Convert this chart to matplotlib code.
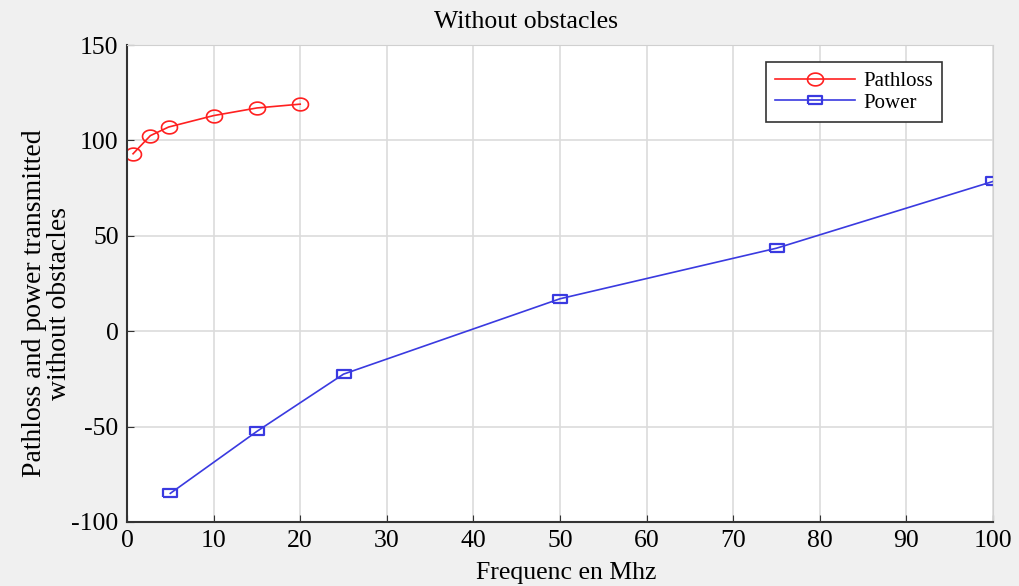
import numpy as np
import matplotlib
matplotlib.use("Agg")
import matplotlib.pyplot as plt

plt.rcParams['font.family'] = ['Liberation Serif', 'DejaVu Serif']
plt.rcParams['axes.unicode_minus'] = False

# data
freq_pl = [0.7, 2.7, 4.8, 10, 15, 20]
pathloss = [93, 102.5, 107, 113, 117, 119]
freq_pw = [5, 15, 25, 50, 75, 100]
power = [-85, -52.5, -22.5, 17, 43.5, 78.5]
xticks = np.arange(0, 101, 10)
yticks = np.arange(-100, 151, 50)

# slightly flattened markers, as in the reference
t = np.linspace(0, 2 * np.pi, 41)
ellipse = np.column_stack([np.cos(t), 0.8 * np.sin(t)])
rect = [(-1, -0.6), (1, -0.6), (1, 0.6), (-1, 0.6), (-1, -0.6)]

fig = plt.figure(figsize=(10.19, 5.86), dpi=100, facecolor='#f0f0f0')
ax = fig.add_axes([127 / 1019, 1 - 522 / 586, 866 / 1019, 477 / 586])
ax.set_facecolor('white')

ax.plot(freq_pl, pathloss, color='#ff2020', marker=ellipse, ms=11.5, mfc='none',
        mew=1.2, lw=1.2, label='Pathloss')
ax.plot(freq_pw, power, color='#3a3ae0', marker=rect, ms=10, mfc='none',
        mew=1.6, lw=1.2, label='Power')

ax.set_xlim(0, 100)
ax.set_ylim(-100, 150)
ax.set_xticks(xticks)
ax.set_yticks(yticks)
ax.grid(True, color='#dcdcdc', lw=1.2)
ax.tick_params(direction='in', labelsize=18.5, length=5, color='#333333', pad=6)
for s in ['left', 'bottom']:
    ax.spines[s].set_color('#333333')
    ax.spines[s].set_linewidth(1.5)
for s in ['top', 'right']:
    ax.spines[s].set_color('#d0d0d0')

leg = ax.legend(loc='upper left', bbox_to_anchor=(766 / 1019, 1 - 62 / 586),
                bbox_transform=fig.transFigure, borderaxespad=0, fontsize=15,
                fancybox=False, framealpha=1, edgecolor='#333333',
                handlelength=3.8, handletextpad=0.4, borderpad=0.45,
                labelspacing=0.1)
leg.get_frame().set_linewidth(1.2)

fig.text(526 / 1019, 1 - 22 / 586, 'Without obstacles', ha='center', va='center',
         fontsize=18.5)
fig.text(566 / 1019, 1 - 573 / 586, 'Frequenc en Mhz', ha='center', va='center',
         fontsize=18.5)
fig.text(47 / 1019, 1 - 303 / 586, 'Pathloss and power transmitted\nwithout obstacles',
         ha='center', va='center', rotation=90, fontsize=20, linespacing=1.0)

fig.savefig('out.png', dpi=100, facecolor=fig.get_facecolor())
